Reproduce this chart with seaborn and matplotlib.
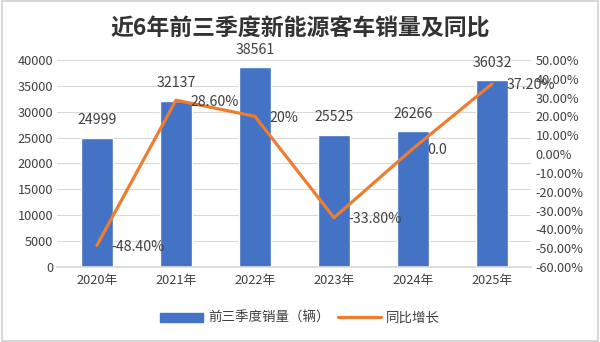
import matplotlib
matplotlib.use("Agg")
import matplotlib.pyplot as plt
import seaborn as sns
import numpy as np
import pandas as pd
from matplotlib.patches import Patch, Rectangle
from matplotlib.lines import Line2D
from matplotlib.ticker import FuncFormatter, MultipleLocator

years = ["2020年", "2021年", "2022年", "2023年", "2024年", "2025年"]
sales = [24999, 32137, 38561, 25525, 26266, 36032]
growth = [-48.4, 28.6, 20.0, -33.8, 2.9, 37.2]
growth_labels = ["-48.40%", "28.60%", "20%", "-33.80%", "0.0", "37.20%"]
title = "近6年前三季度新能源客车销量及同比"
bar_name = "前三季度销量（辆）"
line_name = "同比增长"

sns.set_theme(style="white")
plt.rcParams['font.family'] = ['Noto Sans CJK SC', 'DejaVu Sans']

BAR = "#4472C4"
LINE = "#ED7D31"
TXT = "#404040"

fig = plt.figure(figsize=(6, 3.42), dpi=100)
ax = fig.add_axes([0.0958, 0.219, 0.79, 0.606])

df = pd.DataFrame({"year": years, "sales": sales})
sns.barplot(data=df, x="year", y="sales", color=BAR, width=0.4, saturation=1, ax=ax)
ax.set_ylim(0, 40000)
ax.yaxis.set_major_locator(MultipleLocator(5000))
ax.set_xlim(-0.5, 5.5)
ax.grid(axis="y", color="#D9D9D9", linewidth=0.8)
ax.set_axisbelow(True)
for s in ["top", "left", "right"]:
    ax.spines[s].set_visible(False)
ax.spines["bottom"].set_color("#D9D9D9")
ax.set_xlabel("")
ax.set_ylabel("")
ax.tick_params(axis="both", length=0, labelsize=9.2, labelcolor=TXT, pad=3)
ax.tick_params(axis="x", pad=5)

for i, v in enumerate(sales):
    ax.text(i, v + 2000, str(v), ha="center", va="bottom", fontsize=10.2, color=TXT)

ax2 = ax.twinx()
sns.lineplot(x=np.arange(len(years)), y=growth, color=LINE, linewidth=2.3, ax=ax2)
ax2.set_ylim(-60, 50)
ax2.yaxis.set_major_locator(MultipleLocator(10))
ax2.yaxis.set_major_formatter(FuncFormatter(lambda v, p: f"{v:.2f}%"))
ax2.tick_params(axis="y", length=0, labelsize=9.2, labelcolor=TXT, pad=3)
for s in ["top", "left", "right", "bottom"]:
    ax2.spines[s].set_visible(False)
ax2.set_ylabel("")

for i, (v, lab) in enumerate(zip(growth, growth_labels)):
    ax2.text(i + 0.18, v - 0.8, lab, ha="left", va="center", fontsize=10.2, color=TXT)

fig.text(0.5, 0.918, title, ha="center", va="center", fontsize=16.5, fontweight="bold", color="#333333")

handles = [Patch(facecolor=BAR, edgecolor=BAR), Line2D([0], [0], color=LINE, linewidth=2.3)]
fig.legend(handles, [bar_name, line_name], loc="center", bbox_to_anchor=(0.5, 0.07), ncol=2,
           frameon=False, fontsize=9.7, handlelength=3.2, handleheight=0.7, columnspacing=0.6,
           handletextpad=0.4, labelcolor=TXT)

fig.patches.append(Rectangle((0.003, 0.004), 0.994, 0.992, transform=fig.transFigure,
                             fill=False, edgecolor="#D0D0D0", linewidth=1.2))

fig.savefig("out.png", dpi=100)
